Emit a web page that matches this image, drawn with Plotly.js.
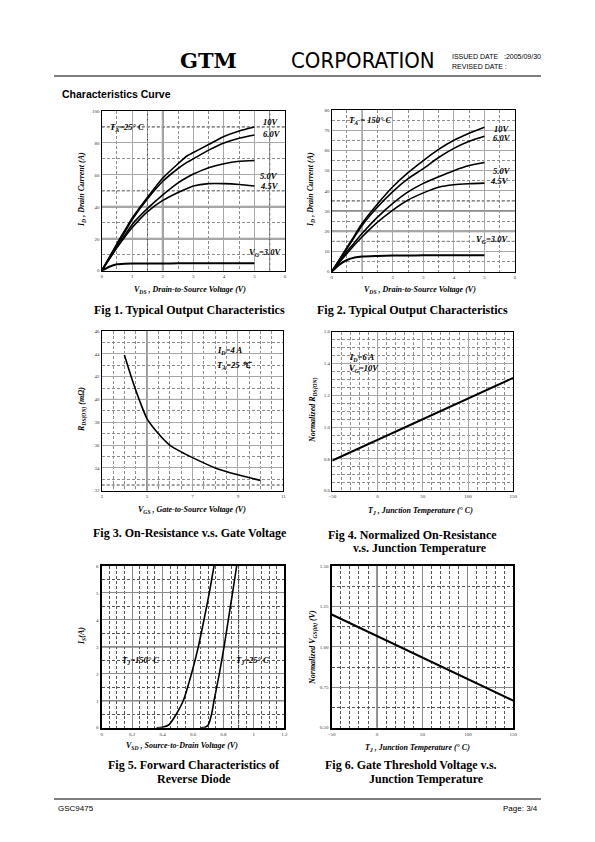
<!DOCTYPE html>
<html><head><meta charset="utf-8">
<script src="https://cdn.plot.ly/plotly-3.0.1.min.js"></script>
<style>html,body{margin:0;padding:0;background:#fff}#c{width:595px;height:842px}</style>
</head><body><div id="c"></div>
<script>
// ---------- DATA ----------
// Fig 1: Typical output characteristics, TA = 25 C
const vds1 = [0, 0.25, 0.5, 0.75, 1, 1.5, 2, 2.5, 2.8, 3, 3.5, 4, 4.5, 5];
const id1_10V = [0, 8.5, 17, 25, 33, 46, 58, 67, 72, 74, 79, 84, 87.5, 90];
const id1_6V  = [0, 8, 16, 24, 32, 45, 56, 64, 68, 70, 75.5, 80, 83, 85];
const id1_5V  = [0, 7.5, 15, 22, 29, 39, 47.5, 55, 58.5, 60.5, 64.5, 67, 68.5, 69];
const id1_45V = [0, 7.3, 14.5, 21, 27, 37, 44, 49, 51.5, 53, 54.5, 54.5, 54, 53];
const id1_3V  = [0, 2.5, 4, 4.4, 4.5, 4.5, 4.5, 4.6, 4.6, 4.6, 4.6, 4.7, 4.7, 4.7];
// Fig 2: Typical output characteristics, TA = 150 C
const vds2 = [0, 0.25, 0.5, 0.75, 1, 1.5, 2, 2.5, 3, 3.5, 4, 4.5, 5];
const id2_10V = [0, 6, 12, 18, 24, 33.5, 42, 49, 55, 60.5, 65, 68.5, 71.5];
const id2_6V  = [0, 5.8, 11.5, 17.3, 23, 32, 39.6, 46, 51, 56.5, 61, 64.5, 67];
const id2_5V  = [0, 5, 10, 14.5, 19, 27, 33.8, 39.5, 43.7, 47, 50, 52.5, 54];
const id2_45V = [0, 4.6, 9, 13.3, 17.3, 24.5, 30.5, 35.5, 39, 41.8, 43, 43.5, 43.8];
const id2_3V  = [0, 3.5, 5.8, 7, 7.5, 7.8, 8, 8, 8.1, 8.1, 8.1, 8.2, 8.2];
// Fig 3: On-resistance vs gate voltage
const vgs3 = [4.0, 4.3, 4.65, 5.0, 5.5, 6.0, 6.5, 7.0, 8.0, 9.0, 10.0];
const rds3 = [43.9, 42.0, 40.0, 38.3, 37.0, 36.0, 35.4, 34.9, 34.0, 33.4, 32.9];
// Fig 4: Normalized on-resistance vs junction temperature
const tj4 = [-50, 0, 50, 100, 150];
const rn4 = [0.79, 0.92, 1.05, 1.18, 1.31];
// Fig 5: Forward characteristics of reverse diode
const vsd5_150 = [0.36, 0.40, 0.44, 0.49, 0.536, 0.59, 0.635, 0.672, 0.707, 0.738];
const is5_150  = [0, 0.02, 0.1, 0.5, 1, 2, 3, 4, 5, 6];
const vsd5_25  = [0.65, 0.68, 0.70, 0.722, 0.738, 0.773, 0.804, 0.832, 0.86, 0.887];
const is5_25   = [0, 0.02, 0.1, 0.5, 1, 2, 3, 4, 5, 6];
// Fig 6: Gate threshold voltage vs junction temperature
const tj6 = [-50, 0, 50, 100, 150];
const vth6 = [1.20, 1.067, 0.935, 0.80, 0.667];

// curve labels
const lab1 = ['10V', '6.0V', '5.0V', '4.5V'];
const lab2 = ['10V', '6.0V', '5.0V', '4.5V'];

// ---------- LAYOUT HELPERS ----------
const W = 595, H = 842;
const px = x => x / W, py = y => 1 - y / H;
const rects = [
  [101.7, 111, 285, 270.7],
  [331.7, 110, 515, 271.7],
  [101.7, 331, 283.3, 490.7],
  [332.3, 331.7, 513.3, 490.7],
  [101.7, 566, 284.3, 727.7],
  [331.7, 566, 513.3, 727.7]
];
const SERIF = 'Liberation Serif, Times New Roman, serif';
const SANS = 'Liberation Sans, Arial, sans-serif';

function ax(i, isX, range, dtick, mdtick, fmt, lw, dark) {
  const r = rects[i];
  return {
    domain: isX ? [px(r[0]), px(r[2])] : [py(r[3]), py(r[1])],
    anchor: (isX ? 'y' : 'x') + (i ? i + 1 : ''),
    range: range, dtick: dtick, tick0: range[0], tickformat: fmt || '',
    showline: true, mirror: true, linecolor: '#000', linewidth: lw || 1.4,
    ticks: '', zeroline: false, showgrid: true, gridcolor: dark ? '#8a8a8a' : '#a8a8a8', gridwidth: 0.9,
    minor: {dtick: mdtick, tick0: range[0], showgrid: true, gridcolor: dark ? '#555' : '#8c8c8c', griddash: '3px,2px', gridwidth: 0.8},
    tickfont: {family: SERIF, size: 5, color: '#333'},
    fixedrange: true
  };
}

const layout = {
  width: W, height: H, margin: {l: 0, r: 0, t: 0, b: 0},
  paper_bgcolor: '#fff', plot_bgcolor: '#fff', showlegend: false,
  font: {family: SERIF, color: '#000'},
  xaxis:  ax(0, true, [0, 6], 1, 0.5),
  yaxis:  ax(0, false, [0, 100], 20, 10),
  xaxis2: ax(1, true, [0, 6], 1, 0.5),
  yaxis2: ax(1, false, [0, 80], 10, 5),
  xaxis3: ax(2, true, [3, 11], 2, 0.5),
  yaxis3: ax(2, false, [32, 46], 2, 1),
  xaxis4: ax(3, true, [-50, 150], 50, 10),
  yaxis4: ax(3, false, [0.6, 1.6], 0.2, 0.05, '.1f'),
  xaxis5: ax(4, true, [0, 1.2], 0.2, 0.05, '', 2.4, true),
  yaxis5: ax(4, false, [0, 6], 1, 0.5, '', 2.4, true),
  xaxis6: ax(5, true, [-50, 150], 50, 10, '', 2.4, true),
  yaxis6: ax(5, false, [0.5, 1.5], 0.25, 0.125, '.2f', 2.4, true),
  annotations: [], shapes: []
};

// emphasis grid lines (scan artefacts of the original grid)
function vline(i, x, color, w, dash) {
  const s = i ? i + 1 : '';
  layout.shapes.push({type: 'line', layer: 'below', xref: 'x' + s, yref: 'y' + s + ' domain', x0: x, x1: x, y0: 0, y1: 1, line: {color: color, width: w, dash: dash || 'solid'}});
}
function hline(i, y, color, w, dash) {
  const s = i ? i + 1 : '';
  layout.shapes.push({type: 'line', layer: 'below', xref: 'x' + s + ' domain', yref: 'y' + s, x0: 0, x1: 1, y0: y, y1: y, line: {color: color, width: w, dash: dash || 'solid'}});
}
const DD = '3px,2px';
vline(0, 2, '#8a8a8a', 2); hline(0, 20, '#8a8a8a', 2); hline(0, 40, '#8a8a8a', 2);
vline(0, 1.5, '#444', 1, DD); vline(0, 5.5, '#444', 1, DD); hline(0, 50, '#444', 1, DD); hline(0, 90, '#444', 1, DD);
vline(1, 1, '#000', 1); hline(1, 20, '#8a8a8a', 2); hline(1, 30, '#8a8a8a', 2); hline(1, 15, '#444', 1, DD); hline(1, 35, '#444', 1, DD);
vline(2, 5, '#000', 1); hline(2, 40, '#000', 1); hline(2, 32.5, '#444', 1, DD);
vline(3, 0, '#000', 1); hline(3, 1.4, '#000', 1);
hline(4, 1, '#000', 1); hline(4, 3, '#000', 1); vline(4, 0.8, '#222', 1, DD); vline(4, 0.9, '#222', 1, DD);
vline(5, 0, '#000', 1);

// ---------- TRACES ----------
function line(x, y, i, w) {
  const s = i ? i + 1 : '';
  return {x: x, y: y, xaxis: 'x' + s, yaxis: 'y' + s, type: 'scatter', mode: 'lines',
    line: {color: '#000', width: w || 1.6, shape: 'spline', smoothing: 0.7}, hoverinfo: 'skip'};
}
const data = [
  line(vds1, id1_10V, 0), line(vds1, id1_6V, 0), line(vds1, id1_5V, 0), line(vds1, id1_45V, 0), line(vds1, id1_3V, 0, 2),
  line(vds2, id2_10V, 1), line(vds2, id2_6V, 1), line(vds2, id2_5V, 1), line(vds2, id2_45V, 1), line(vds2, id2_3V, 1, 2),
  line(vgs3, rds3, 2),
  {x: tj4, y: rn4, xaxis: 'x4', yaxis: 'y4', type: 'scatter', mode: 'lines', line: {color: '#000', width: 2}},
  line(vsd5_150, is5_150, 4), line(vsd5_25, is5_25, 4),
  {x: tj6, y: vth6, xaxis: 'x6', yaxis: 'y6', type: 'scatter', mode: 'lines', line: {color: '#000', width: 2}}
];

// ---------- TEXT ----------
function txt(text, x, y, o) {
  o = o || {};
  layout.annotations.push(Object.assign({
    text: text, x: x, y: y, xref: 'paper', yref: 'paper', showarrow: false,
    xanchor: 'center', yanchor: 'middle',
    font: {family: SERIF, size: 8, color: '#000'}
  }, o));
}
function dlab(text, i, x, y, anchor) {
  const s = i ? i + 1 : '';
  layout.annotations.push({text: '<b><i>' + text + '</i></b>', x: x, y: y, xref: 'x' + s, yref: 'y' + s,
    showarrow: false, xanchor: anchor || 'left', yanchor: 'middle', font: {family: SERIF, size: 8.5, color: '#000'}});
}
// header
txt('<b>GTM</b>', px(208), py(60), {font: {family: 'DejaVu Serif, serif', size: 21, color: '#000'}});
txt('CORPORATION', px(363), py(60), {font: {family: 'Liberation Sans Narrow, DejaVu Sans Condensed, sans-serif', size: 22, color: '#000'}});
txt('ISSUED DATE   :2005/09/30', px(450), py(56.5), {xanchor: 'left', font: {family: 'Liberation Sans Narrow, Liberation Sans, sans-serif', size: 7, color: '#000'}});
txt('REVISED DATE :', px(450), py(66), {xanchor: 'left', font: {family: 'Liberation Sans Narrow, Liberation Sans, sans-serif', size: 7, color: '#000'}});
txt('<b>Characteristics Curve</b>', px(60), py(94), {xanchor: 'left', font: {family: SANS, size: 10.5, color: '#000'}});
txt('GSC9475', px(56), py(808), {xanchor: 'left', font: {family: SANS, size: 8, color: '#000'}});
txt('Page: 3/4', px(540), py(808), {xanchor: 'right', font: {family: SANS, size: 8, color: '#000'}});
layout.shapes.push({type: 'line', xref: 'paper', yref: 'paper', x0: px(54), x1: px(541), y0: py(76), y1: py(76), line: {color: '#000', width: 1}});
layout.shapes.push({type: 'line', xref: 'paper', yref: 'paper', x0: px(54), x1: px(541), y0: py(799), y1: py(799), line: {color: '#000', width: 1}});

// captions
const cap = {family: SERIF, size: 12, color: '#000'};
txt('<b>Fig 1. Typical Output Characteristics</b>', px(190), py(310), {font: cap});
txt('<b>Fig 2. Typical Output Characteristics</b>', px(412), py(310), {font: cap});
txt('<b>Fig 3. On-Resistance v.s. Gate Voltage</b>', px(190), py(533), {font: cap});
txt('<b>Fig 4. Normalized On-Resistance</b>', px(326), py(535), {xanchor: 'left', font: cap});
txt('<b>v.s. Junction Temperature</b>', px(489), py(548), {xanchor: 'right', font: cap});
txt('<b>Fig 5. Forward Characteristics of</b>', px(194), py(765), {font: cap});
txt('<b>Reverse Diode</b>', px(194), py(779), {font: cap});
txt('<b>Fig 6. Gate Threshold Voltage v.s.</b>', px(411), py(765), {font: cap});
txt('<b>Junction Temperature</b>', px(426), py(779), {font: cap});

// axis titles
const at = {family: SERIF, size: 8, color: '#000'};
txt('<b><i>V<sub>DS</sub> , Drain-to-Source Voltage (V)</i></b>', px(190), py(290), {font: at});
txt('<b><i>V<sub>DS</sub> , Drain-to-Source Voltage (V)</i></b>', px(420), py(290), {font: at});
txt('<b><i>V<sub>GS</sub> , Gate-to-Source Voltage (V)</i></b>', px(192), py(510), {font: at});
txt('<b><i>T<sub>J</sub> , Junction Temperature (° C)</i></b>', px(420), py(511), {font: at});
txt('<b><i>V<sub>SD</sub> , Source-to-Drain Voltage (V)</i></b>', px(182), py(746), {font: at});
txt('<b><i>T<sub>J</sub> , Junction Temperature (° C)</i></b>', px(418), py(748), {font: at});
txt('<b><i>I<sub>D</sub> , Drain Current (A)</i></b>', px(82), py(190), {font: at, textangle: -90});
txt('<b><i>I<sub>D</sub> , Drain Current (A)</i></b>', px(311), py(190), {font: at, textangle: -90});
txt('<b><i>R<sub>DS(ON)</sub> (mΩ)</i></b>', px(82), py(410), {font: at, textangle: -90});
txt('<b><i>Normalized R<sub>DS(ON)</sub></i></b>', px(313), py(410), {font: at, textangle: -90});
txt('<b><i>I<sub>S</sub>(A)</i></b>', px(82), py(636), {font: at, textangle: -90});
txt('<b><i>Normalized V<sub>GS(th)</sub> (V)</i></b>', px(313), py(648), {font: at, textangle: -90});

// in-plot labels
dlab('T<sub>A</sub>=25° C', 0, 0.2, 89.5);
dlab(lab1[0], 0, 5.2, 93); dlab(lab1[1], 0, 5.2, 85.5); dlab(lab1[2], 0, 5.1, 59.5); dlab(lab1[3], 0, 5.1, 53);
dlab('V<sub>G</sub>=3.0V', 0, 4.75, 11.5);
dlab('T<sub>A</sub> = 150° C', 1, 0.5, 75);
dlab(lab2[0], 1, 5.25, 70.6); dlab(lab2[1], 1, 5.2, 66.3); dlab(lab2[2], 1, 5.2, 49.8); dlab(lab2[3], 1, 5.1, 44.9);
dlab('V<sub>G</sub>=3.0V', 1, 4.65, 15.7);
dlab('I<sub>D</sub>=4 A', 2, 8.0, 44.3);
dlab('T<sub>A</sub>=25 ℃', 2, 8.0, 43.0);
dlab('I<sub>D</sub>=6 A', 3, -34, 1.44);
dlab('V<sub>G</sub>=10V', 3, -34, 1.37);
dlab('T<sub>J</sub>=150° C', 4, 0.12, 2.5);
dlab('T<sub>J</sub>=25° C', 4, 0.87, 2.5);

Plotly.newPlot('c', data, layout, {displayModeBar: false, responsive: false});
</script></body></html>
